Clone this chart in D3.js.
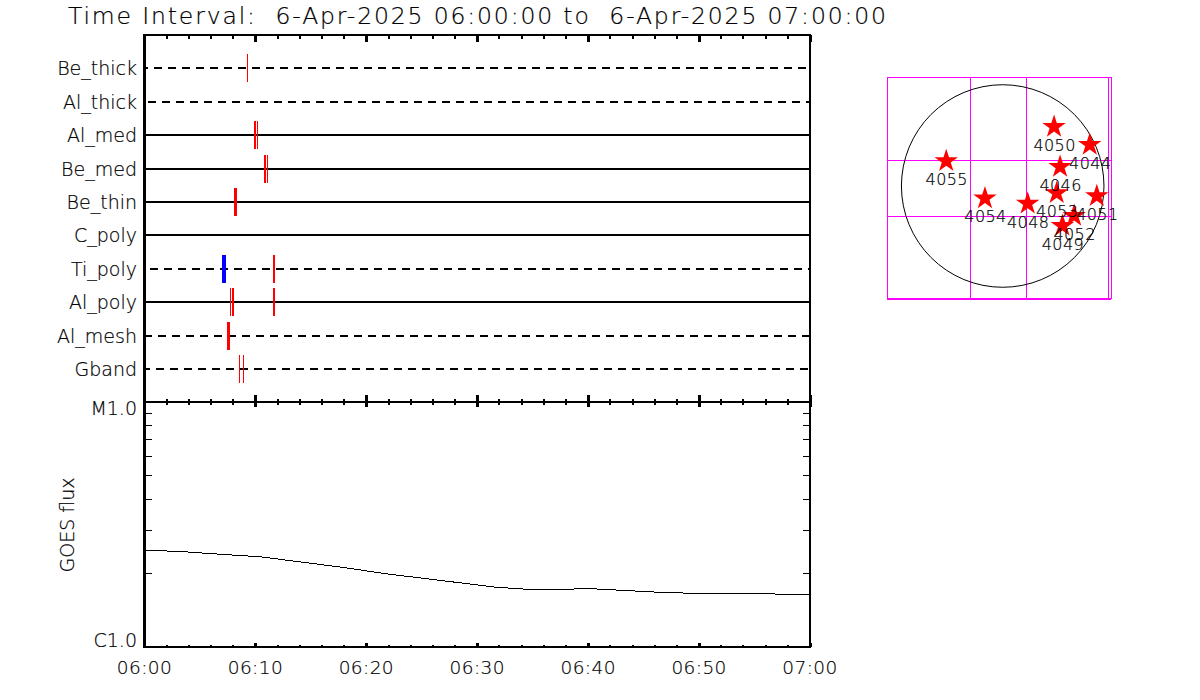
<!DOCTYPE html>
<html><head><meta charset="utf-8">
<script src="https://cdn.jsdelivr.net/npm/d3@7"></script>
<style>
html,body{margin:0;padding:0;background:#fff}
svg{display:block}
text{font-family:"DejaVu Sans";font-weight:200;fill:#000;stroke:#000;stroke-width:0.2px}
</style></head><body><svg id="c" width="1200" height="700"></svg>
<script>
const titleText="Time Interval:  6-Apr-2025 06:00:00 to  6-Apr-2025 07:00:00";
const channels=["Be_thick","Al_thick","Al_med","Be_med","Be_thin","C_poly","Ti_poly","Al_poly","Al_mesh","Gband"];
const channelDashed=[true,true,false,false,false,false,true,false,true,true];
const channelDashPhase=[4.5,10.5,0,0,0,0,8.5,0,0.5,2.5];
const eventChannel=["Be_thick","Al_med","Al_med","Be_med","Be_med","Be_thin","Ti_poly","Ti_poly","Al_poly","Al_poly","Al_poly","Al_mesh","Gband","Gband"];
const eventStart=[9.24,9.87,10.17,10.78,11.05,8.07,6.99,11.59,7.71,7.89,11.59,7.44,8.52,8.88];
const eventEnd=[9.33,10.05,10.26,10.96,11.14,8.34,7.35,11.77,7.80,8.07,11.77,7.71,8.61,8.97];
const eventColor=["red","red","red","red","red","red","blue","red","red","red","red","red","red","red"];
const timeTickMinutes=[0,10,20,30,40,50,60];
const timeTickLabels=["06:00","06:10","06:20","06:30","06:40","06:50","07:00"];
const minorMinutes=[2,4,6,8,12,14,16,18,22,24,26,28,32,34,36,38,42,44,46,48,52,54,56,58];
const fluxMinutes=[0,3.47,7.41,10.41,13.39,17.63,22.14,25.45,30.25,31.45,34.46,38.37,39.54,42.58,46.48,49.49,55.5,60];
const fluxValues=[2.488e-6,2.449e-6,2.381e-6,2.336e-6,2.244e-6,2.121e-6,1.98e-6,1.9e-6,1.786e-6,1.758e-6,1.72e-6,1.72e-6,1.736e-6,1.708e-6,1.672e-6,1.656e-6,1.65e-6,1.635e-6];
const fluxMinorTicks=[2e-6,3e-6,4e-6,5e-6,6e-6,7e-6,8e-6,9e-6];
const regionIds=["4050","4044","4046","4055","4054","4048","4053","4051","4052","4049"];
const regionX=[487,825,544,-535,-168,237,512,892,677,566];
const regionY=[568,398,190,243,-108,-159,-60,-88,-275,-370];
const gridX=[-307,224,1005];
const gridY=[-286,246,-1078];

const svg=d3.select("#c");
const L=144.5,R=810,T=35,M=402,B=647;
const x=d3.scaleLinear().domain([0,60]).range([L,R]);
const yp=d3.scalePoint().domain(channels).range([68.2,369.2]);
const y=d=>Math.round(yp(d));
const yFlux=d3.scaleLog().domain([1e-6,1e-5]).range([B,M]);

const crisp=svg.append("g").attr("shape-rendering","crispEdges");

// title
svg.append("text").attr("x",68).attr("y",24).attr("font-size",23.5).attr("textLength",818).attr("lengthAdjust","spacing")
  .style("white-space","pre").text(titleText);

// channel lines
crisp.selectAll("line.row").data(channels).join("line").attr("class","row")
  .attr("x1",L).attr("x2",R).attr("y1",d=>y(d)).attr("y2",d=>y(d))
  .attr("stroke","#000").attr("stroke-width",2)
  .attr("stroke-dasharray",(d,i)=>channelDashed[i]?"8 6":null)
  .attr("stroke-dashoffset",(d,i)=>channelDashPhase[i]);

// events
crisp.selectAll("rect.ev").data(eventChannel).join("rect").attr("class","ev")
  .attr("x",(d,i)=>x(eventStart[i]))
  .attr("width",(d,i)=>x(eventEnd[i])-x(eventStart[i]))
  .attr("y",d=>y(d)-14).attr("height",28)
  .attr("fill",(d,i)=>eventColor[i]);

// channel labels
svg.selectAll("text.ch").data(channels).join("text").attr("class","ch")
  .attr("x",137).attr("y",d=>y(d)+6.5).attr("text-anchor","end").attr("font-size",19).text(d=>d);

// frame
const frame=[[L,T,L,B],[L,T,R,T],[R,T,R,B],[L,M,R,M],[L,B,R,B]];
crisp.selectAll("line.fr").data(frame).join("line").attr("class","fr")
  .attr("x1",d=>d[0]).attr("y1",d=>d[1]).attr("x2",d=>d[2]).attr("y2",d=>d[3])
  .attr("stroke","#000").attr("stroke-width",2.4).attr("stroke-linecap","square");

// time ticks
function timeTicks(vals,y1,y2,w){
  crisp.append("g").selectAll("line").data(vals).join("line")
    .attr("x1",d=>x(d)).attr("x2",d=>x(d)).attr("y1",y1).attr("y2",y2)
    .attr("stroke","#000").attr("stroke-width",w);
}
timeTicks(minorMinutes,T,T+4,2);
timeTicks(timeTickMinutes,T,T+7,3);
timeTicks(minorMinutes,M-3,M+3,2);
timeTicks(timeTickMinutes,M-7,M+5,3);
timeTicks(minorMinutes,B-2,B,2);
timeTicks(timeTickMinutes,B-4,B,3);

// flux ticks both sides
crisp.append("g").selectAll("line").data(fluxMinorTicks).join("line")
  .attr("x1",L).attr("x2",L+7.5).attr("y1",d=>yFlux(d)).attr("y2",d=>yFlux(d)).attr("stroke","#000");
crisp.append("g").selectAll("line").data(fluxMinorTicks).join("line")
  .attr("x1",R-7).attr("x2",R).attr("y1",d=>yFlux(d)).attr("y2",d=>yFlux(d)).attr("stroke","#000");

// flux curve
crisp.append("path").attr("fill","none").attr("stroke","#000").attr("stroke-width",1)
  .attr("d",d3.line().x((d,i)=>x(fluxMinutes[i])).y(d=>yFlux(d))(fluxValues));

// labels
svg.selectAll("text.tl").data(timeTickLabels).join("text").attr("class","tl")
  .attr("x",(d,i)=>x(timeTickMinutes[i])).attr("y",674).attr("text-anchor","middle").attr("font-size",18.5).style("letter-spacing","0.4px").text(d=>d);
svg.append("text").attr("x",137).attr("y",415).attr("text-anchor","end").attr("font-size",19).text("M1.0");
svg.append("text").attr("x",137).attr("y",647).attr("text-anchor","end").attr("font-size",19).text("C1.0");
svg.append("text").attr("transform","translate(74,525) rotate(-90)").attr("text-anchor","middle").attr("font-size",19).text("GOES flux");

// solar map
const k=0.1055, cx=1002.7, cy=186;
const mx=d3.scaleLinear().domain([-1092,1027]).range([cx-1092*k,cx+1027*k]);
const my=d3.scaleLinear().domain([-1071,1024]).range([cy+1071*k,cy-1024*k]);
const m=svg.append("g");
const mg=m.append("g").attr("shape-rendering","crispEdges").attr("stroke","#f0f").attr("fill","none");
mg.append("rect").attr("x",mx(-1092)).attr("y",my(1024)).attr("width",mx(1027)-mx(-1092)).attr("height",my(-1071)-my(1024)).attr("stroke-width",1);
mg.selectAll("line.gx").data(gridX).join("line").attr("class","gx").attr("x1",d=>mx(d)).attr("x2",d=>mx(d)).attr("y1",my(1024)).attr("y2",my(-1071));
mg.selectAll("line.gy").data(gridY).join("line").attr("class","gy").attr("y1",d=>my(d)).attr("y2",d=>my(d)).attr("x1",mx(-1092)).attr("x2",mx(1027));
m.append("circle").attr("cx",mx(0)).attr("cy",my(0)).attr("r",960*k).attr("fill","none").attr("stroke","#000").attr("stroke-width",1);
const star=d3.symbol().type(d3.symbolStar).size(170)();
m.selectAll("path.st").data(regionIds).join("path").attr("class","st").attr("d",star).attr("fill","red")
  .attr("transform",(d,i)=>`translate(${mx(regionX[i])},${my(regionY[i])+0.8})`);
m.selectAll("text.ar").data(regionIds).join("text").attr("class","ar")
  .attr("x",(d,i)=>mx(regionX[i])+0.5).attr("y",(d,i)=>my(regionY[i])+25).attr("text-anchor","middle").attr("font-size",16).style("letter-spacing","0.4px").text(d=>d);
</script></body></html>
